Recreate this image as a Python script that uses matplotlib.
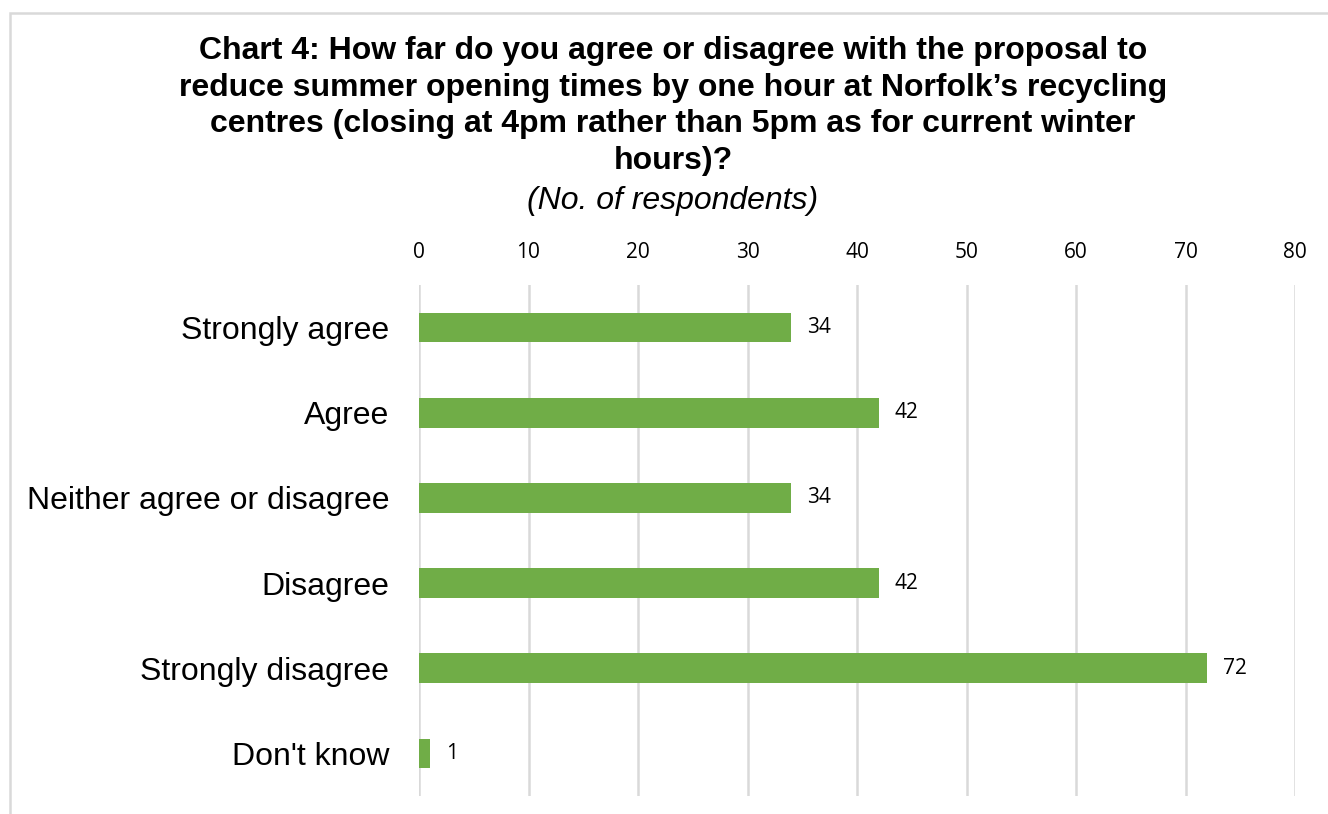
import matplotlib.pyplot as plt
from matplotlib.patches import Rectangle

categories = ["Strongly agree", "Agree", "Neither agree or disagree",
              "Disagree", "Strongly disagree", "Don't know"]
counts = [34, 42, 34, 42, 72, 1]
x_ticks = [0, 10, 20, 30, 40, 50, 60, 70, 80]

W, H = 1328, 814
fig = plt.figure(figsize=(W / 100, H / 100), dpi=100)

# outer chart frame (runs off the right and bottom edges)
fig.patches.append(Rectangle((10 / W, -0.05), 1.1, (H - 13) / H + 0.05,
                             transform=fig.transFigure, fill=False,
                             edgecolor="#d9d9d9", linewidth=1.8))

ax = fig.add_axes([419 / W, 1 - 796 / H, (1295 - 419) / W, (796 - 285) / H])

y = list(range(len(categories)))
ax.barh(y, counts, height=0.35, color="#70ad47", zorder=3)
for yi, v in zip(y, counts):
    ax.text(v + 1.45, yi, str(v), va="center", ha="left",
            fontsize=15, family="Open Sans", color="#000000")

ax.set_xlim(0, 80)
ax.set_ylim(len(categories) - 0.5, -0.5)
ax.set_xticks(x_ticks)
ax.xaxis.tick_top()
ax.tick_params(axis="x", length=0, pad=16, labelsize=15)
for lbl in ax.get_xticklabels():
    lbl.set_family("Open Sans")
ax.set_yticks(y)
ax.set_yticklabels(categories, fontsize=23, family="Liberation Sans")
ax.tick_params(axis="y", length=0, pad=21.5)
ax.grid(axis="x", color="#d9d9d9", linewidth=1.8, zorder=0)
for s in ax.spines.values():
    s.set_visible(False)

title_x = 673 / W
fig.text(title_x, 1 - 106 / H,
         "Chart 4: How far do you agree or disagree with the proposal to\n"
         "reduce summer opening times by one hour at Norfolk\u2019s recycling\n"
         "centres (closing at 4pm rather than 5pm as for current winter\n"
         "hours)?",
         ha="center", va="center", fontsize=23, fontweight="bold",
         family="Liberation Sans", linespacing=1.3)
fig.text(title_x, 1 - 201 / H, "(No. of respondents)", ha="center", va="center",
         fontsize=23, style="italic", family="Liberation Sans")

fig.savefig("out.png", dpi=100)
